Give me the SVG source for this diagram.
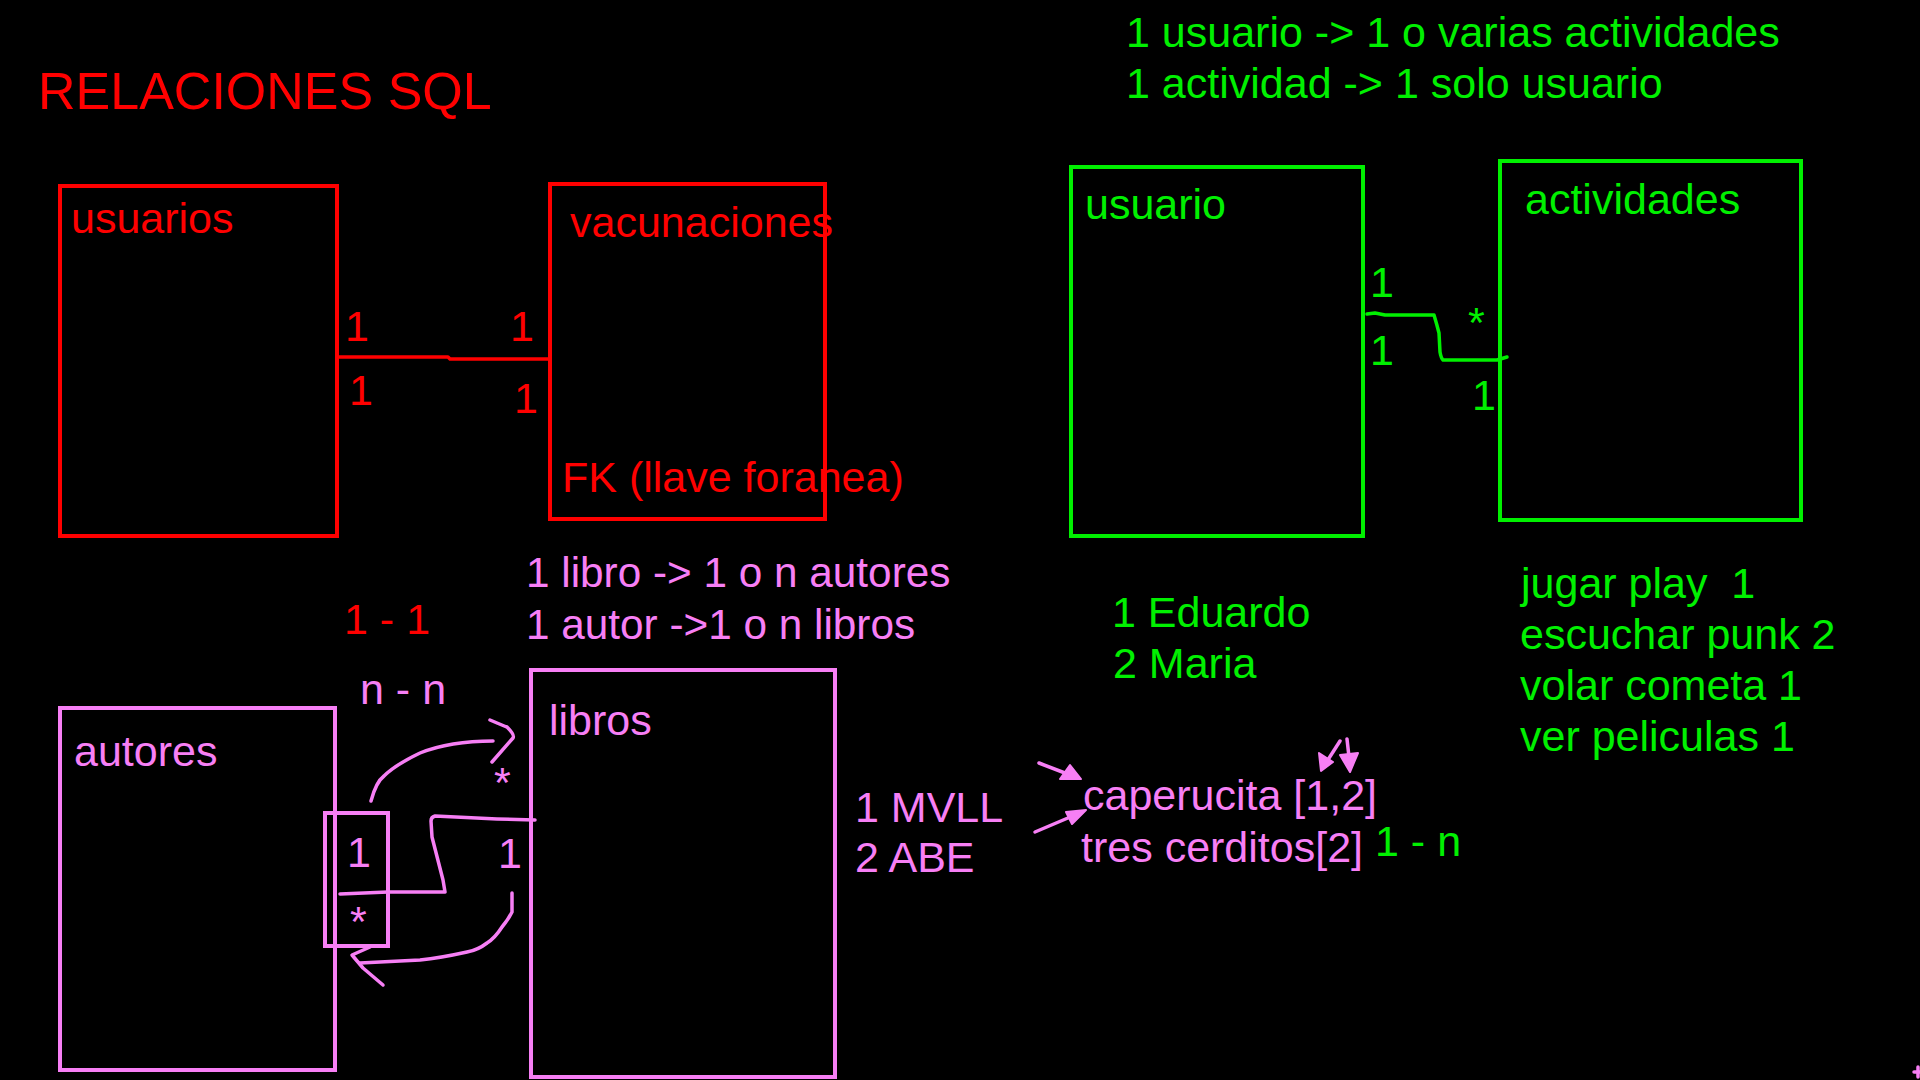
<svg xmlns="http://www.w3.org/2000/svg" width="1920" height="1080" viewBox="0 0 1920 1080">
<style>
text{font-family:"Liberation Sans",Arial,sans-serif;font-size:43px;white-space:pre}
.r{fill:#FF0000}.g{fill:#00F000}.p{fill:#F77FF5}
.br{fill:none;stroke:#FF0000;stroke-width:4}
.bg{fill:none;stroke:#00F000;stroke-width:4}
.bp{fill:none;stroke:#F77FF5;stroke-width:4}
.lr{fill:none;stroke:#FF0000;stroke-width:3.5;stroke-linejoin:round;stroke-linecap:round}
.lg{fill:none;stroke:#00F000;stroke-width:3.5;stroke-linejoin:round;stroke-linecap:round}
.lp{fill:none;stroke:#F77FF5;stroke-width:3.5;stroke-linejoin:round;stroke-linecap:round}
.hp{fill:#F77FF5;stroke:#F77FF5;stroke-width:2;stroke-linejoin:round}
.s{font-size:42.3px}
</style>
<rect width="1920" height="1080" fill="#000"/>
<text class="r" x="38" y="109" style="font-size:52px">RELACIONES SQL</text>

<g id="usuarios"><rect class="br" x="60" y="186" width="277" height="350"/><text class="r" x="71" y="233">usuarios</text></g>
<g id="vacunaciones"><rect class="br" x="550" y="184" width="275" height="335"/><text class="r" x="570" y="237">vacunaciones</text><text class="r" x="562" y="492">FK (llave foranea)</text></g>
<g id="autores"><rect class="bp" x="60" y="708" width="275" height="362"/><text class="p" x="74" y="766">autores</text></g>
<g id="fk-box"><rect class="bp" x="325" y="813" width="63" height="133"/><text class="p" x="347" y="867">1</text><text class="p" x="350" y="936">*</text></g>
<g id="libros"><rect class="bp" x="531" y="670" width="304" height="407"/><text class="p" x="549" y="735">libros</text></g>
<g id="usuario"><rect class="bg" x="1071" y="167" width="292" height="369"/><text class="g" x="1085" y="219">usuario</text></g>
<g id="actividades"><rect class="bg" x="1500" y="161" width="301" height="359"/><text class="g" x="1525" y="214">actividades</text></g>

<g id="connectors">
<path class="lr" d="M337,357 L448,357 L450,359 L550,359"/>
<path class="lg" d="M1367,314 L1375,313 L1385,315 L1434,315 Q1437,325 1439,333 L1440,352 Q1441,358 1443,360 L1497,360 L1507,357"/>
<path class="lp" d="M371,801 Q376,782 384,776 Q395,765 420,753 Q450,741 493,741"/>
<path class="lp" d="M490,720 Q504,726 507,727 Q515,735 513,738 L492,762"/>
<path class="lp" d="M535,820 L497,819 L435,816 Q431,817 431,821 L432,837 L443,880 L445,892 L388,892 L340,894"/>
<path class="lp" d="M512,893 L512,912 Q508,920 502,927 Q495,938 487,943 Q478,950 467,952 Q440,958 420,960 L360,963"/>
<path class="lp" d="M370,947 L352,955 L363,968 L383,985"/>
<path class="lp" d="M1039,763 L1078,778"/>
<path class="hp" d="M1081,779 L1060,779 L1070,765 Z"/>
<path class="lp" d="M1035,832 L1082,812"/>
<path class="hp" d="M1086,810 L1066,812 L1072,824 Z"/>
<path class="lp" d="M1340,741 L1324,766"/>
<path class="hp" d="M1321,771 L1319,753 L1333,762 Z"/>
<path class="lp" d="M1347,739 L1350,766"/>
<path class="hp" d="M1350,772 L1340,755 L1358,753 Z"/>
<path class="lp" d="M1914,1072 L1920,1072 M1918,1067 L1918,1077"/>
</g>

<g id="labels">
<text class="r" x="345" y="341">1</text>
<text class="r" x="510" y="341">1</text>
<text class="r" x="349" y="405">1</text>
<text class="r" x="514" y="413">1</text>
<text class="r" x="344" y="634">1 - 1</text>
<text class="p" x="360" y="704">n - n</text>
<text class="p s" x="526" y="587">1 libro -&gt; 1 o n autores</text>
<text class="p s" x="526" y="639">1 autor -&gt;1 o n libros</text>
<text class="p" x="498" y="868">1</text>
<text class="p" x="494" y="797">*</text>
<text class="p" x="855" y="822">1 MVLL</text>
<text class="p" x="855" y="872">2 ABE</text>
<text class="p" x="1083" y="810">caperucita [1,2]</text>
<text class="p" x="1081" y="862">tres cerditos[2]</text>
<text class="g" x="1375" y="856">1 - n</text>
<text class="g" x="1126" y="47">1 usuario -&gt; 1 o varias actividades</text>
<text class="g" x="1126" y="98">1 actividad -&gt; 1 solo usuario</text>
<text class="g" x="1370" y="297">1</text>
<text class="g" x="1370" y="365">1</text>
<text class="g" x="1468" y="337">*</text>
<text class="g" x="1472" y="410">1</text>
<text class="g" x="1112" y="627">1 Eduardo</text>
<text class="g" x="1113" y="678">2 Maria</text>
<text class="g" x="1521" y="598">jugar play  1</text>
<text class="g" x="1520" y="649">escuchar punk 2</text>
<text class="g" x="1520" y="700">volar cometa 1</text>
<text class="g" x="1520" y="751">ver peliculas 1</text>
</g>
</svg>
